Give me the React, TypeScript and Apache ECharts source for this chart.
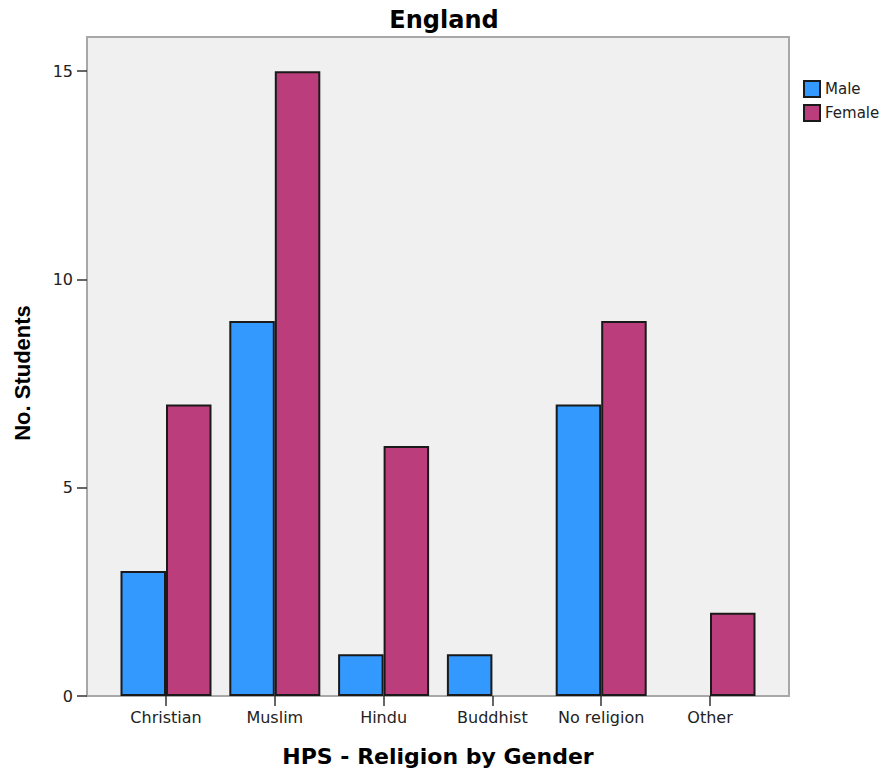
import React, { useEffect, useRef } from "react";
import * as echarts from "echarts";

const categories = ["Christian", "Muslim", "Hindu", "Buddhist", "No religion", "Other"];
const maleValues = [3, 9, 1, 1, 7, 0];
const femaleValues = [7, 15, 6, 0, 9, 2];
const yTicks = [0, 5, 10, 15];
const seriesNames = ["Male", "Female"];

const FONT = "DejaVu Sans";

export default function App() {
  const ref = useRef<HTMLDivElement>(null);
  useEffect(() => {
    if (!ref.current) return;
    const chart = echarts.init(ref.current, null, { renderer: "svg" });
    const toData = (arr: number[]) => arr.map((v) => (v === 0 ? "-" : v));
    chart.setOption({
      animation: false,
      backgroundColor: "#ffffff",
      title: {
        text: "England",
        left: "center",
        top: 8,
        padding: 0,
        textStyle: { fontFamily: FONT, fontSize: 24, fontWeight: "bold", color: "#000" },
      },
      legend: {
        data: seriesNames,
        orient: "vertical",
        left: 803,
        top: 80,
        itemWidth: 16,
        itemHeight: 16,
        itemGap: 6,
        padding: 0,
        icon: "rect",
        textStyle: { fontFamily: FONT, fontSize: 15, color: "#222" },
      },
      graphic: [
        {
          type: "rect",
          z: -10,
          silent: true,
          shape: { x: 87, y: 37, width: 702, height: 659 },
          style: { fill: "#f0f0f0", stroke: "#a8a8a8", lineWidth: 2 },
        },
      ],
      grid: { left: 111.6, right: 123.6, top: 37, bottom: 78, containLabel: false },
      xAxis: {
        type: "category",
        data: categories,
        axisLine: { show: false },
        axisTick: { show: true, alignWithLabel: true, length: 10, lineStyle: { color: "#333", width: 1.5 } },
        axisLabel: { interval: 0, margin: 13, fontFamily: FONT, fontSize: 16, color: "#222" },
        name: "HPS - Religion by Gender",
        nameLocation: "middle",
        nameGap: 49,
        nameTextStyle: { fontFamily: FONT, fontSize: 22, fontWeight: "bold", color: "#000" },
      },
      yAxis: {
        type: "value",
        min: 0,
        max: 15.82,
        interval: 5,
        offset: 24.6,
        axisLine: { show: false },
        splitLine: { show: false },
        axisTick: { show: true, length: 10, customValues: yTicks, lineStyle: { color: "#333", width: 1.5 } },
        axisLabel: { customValues: yTicks, margin: 14, fontFamily: FONT, fontSize: 16, color: "#222" },
        name: "No. Students",
        nameLocation: "middle",
        nameGap: 53.5,
        nameTextStyle: {
          fontFamily: "Liberation Sans",
          fontSize: 22,
          fontWeight: "bold",
          color: "#000",
          padding: [0, 13, 0, 0],
        },
      },
      series: [
        {
          name: seriesNames[0],
          type: "bar",
          data: toData(maleValues),
          barWidth: 45.5,
          barGap: "0%",
          itemStyle: { color: "#3399ff", borderColor: "#1a1a1a", borderWidth: 2 },
        },
        {
          name: seriesNames[1],
          type: "bar",
          data: toData(femaleValues),
          barWidth: 45.5,
          barGap: "0%",
          itemStyle: { color: "#bb3d7b", borderColor: "#1a1a1a", borderWidth: 2 },
        },
      ],
    });
    return () => chart.dispose();
  }, []);
  return (
    <div
      ref={ref}
      style={{ position: "fixed", left: 0, top: 0, width: 888, height: 774 }}
    />
  );
}
